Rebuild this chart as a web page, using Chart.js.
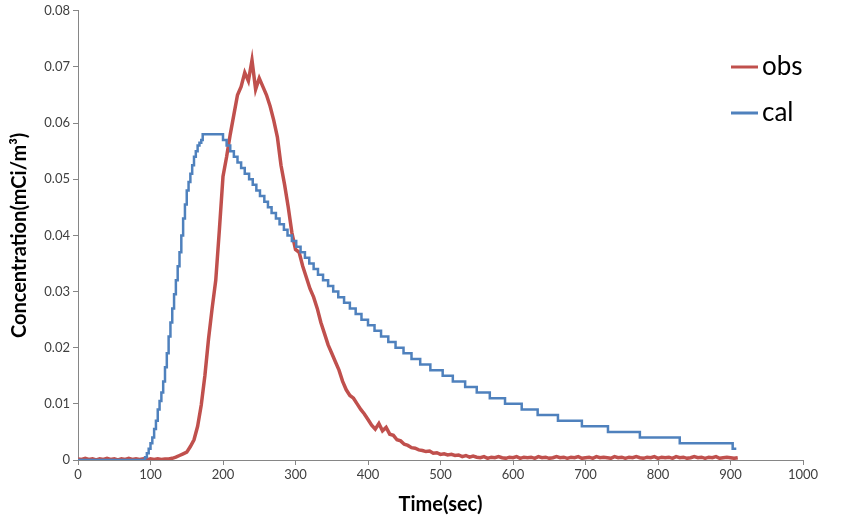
<!DOCTYPE html>
<html>
<head>
<meta charset="utf-8">
<script src="https://cdn.jsdelivr.net/npm/chart.js@4.4.0/dist/chart.umd.min.js"></script>
<style>
  html, body { margin: 0; padding: 0; background: #ffffff; }
  #wrap { position: relative; width: 848px; height: 526px; }
</style>
</head>
<body>
<div id="wrap"><canvas id="c" width="848" height="526"></canvas></div>
<script>
// ---- data ----
const seriesNames = ["obs", "cal"];

const xTicks = [0, 100, 200, 300, 400, 500, 600, 700, 800, 900, 1000];
const yTicks = [0, 0.01, 0.02, 0.03, 0.04, 0.05, 0.06, 0.07, 0.08];

// observed concentration (sec, mCi/m3)
const obsT = [0,5,10,15,20,25,30,35,40,45,50,55,60,65,70,75,80,85,90,95,100,105,110,115,120,125,
  130,135,140,145,150,155,160,165,170,175,180,185,190,195,200,205,210,215,220,225,230,235,240,245,
  250,255,260,265,270,275,280,285,290,295,300,305,310,315,320,325,330,335,340,345,350,355,360,365,
  370,375,380,385,390,395,400,405,410,415,420,425,430,435,440,445,450,455,460,465,470,475,480,485,
  490,495,500,505,510,515,520,525,530,535,540,545,
  550,555,560,565,570,575,580,585,590,595,600,605,610,615,620,625,630,635,640,645,650,655,660,665,
  670,675,680,685,690,695,700,705,710,715,720,725,730,735,740,745,750,755,760,765,770,775,780,785,
  790,795,800,805,810,815,820,825,830,835,840,845,850,855,860,865,870,875,880,885,890,895,900,905,910];
const obsV = [0.0002,0.0001,0.0003,0.0001,0.0002,0.0000,0.0002,0.0001,0.0003,0.0001,0.0002,0.0000,0.0002,
  0.0001,0.0003,0.0001,0.0002,0.0001,0.0002,0.0000,0.0002,0.0001,0.0002,0.0001,0.0002,0.0002,
  0.0003,0.0005,0.0008,0.0011,0.0014,0.0024,0.0036,0.0060,0.0098,0.0150,0.0215,0.0270,0.0320,0.0410,
  0.0505,0.0540,0.0580,0.0615,0.0650,0.0665,0.0690,0.0675,0.0712,0.0660,0.0680,0.0665,0.0650,0.0630,
  0.0605,0.0575,0.0525,0.0490,0.0450,0.0405,0.0375,0.0370,0.0345,0.0325,0.0305,0.0290,0.0270,0.0245,
  0.0225,0.0205,0.0190,0.0175,0.0160,0.0140,0.0125,0.0115,0.0110,0.0100,0.0090,0.0082,0.0072,0.0062,
  0.0055,0.0065,0.0052,0.0058,0.0046,0.0044,0.0036,0.0034,0.0028,0.0026,0.0022,0.0021,0.0018,0.0017,
  0.0015,0.0016,0.0012,0.0013,0.0010,0.0011,0.0009,0.0010,0.0008,0.0009,0.0006,0.0008,0.0005,0.0007,
  0.0005,0.0004,0.0006,0.0003,0.0005,0.0004,0.0006,0.0004,0.0003,0.0005,
  0.0004,0.0006,0.0003,0.0005,0.0004,0.0005,0.0003,0.0006,0.0004,0.0005,
  0.0003,0.0004,0.0006,0.0004,0.0005,0.0003,0.0005,0.0004,0.0006,0.0003,
  0.0004,0.0005,0.0003,0.0006,0.0004,0.0005,0.0004,0.0003,0.0006,0.0004,
  0.0005,0.0003,0.0005,0.0004,0.0006,0.0004,0.0003,0.0005,0.0004,0.0006,
  0.0003,0.0005,0.0004,0.0005,0.0003,0.0006,0.0004,0.0005,0.0003,0.0004,
  0.0006,0.0004,0.0005,0.0003,0.0005,0.0004,0.0006,0.0003,0.0004,0.0005,
  0.0004,0.0003,0.0004];

// calculated concentration: step starts (sec) and levels (mCi/m3)
const calT = [0,90,92.5,95,97.5,100,102.5,105,107.5,110,112.5,115,117.5,120,122.5,125,127.5,130,132.5,
  135,137.5,140,142.5,145,147.5,150,152.5,155,157.5,160,162.5,165,167.5,170,172,
  200,205,210,215,220,225,230,236,241,246,251,257,262,267,273,278,284,289,295,301,307,313,319,325,
  331,338,345,352,359,367,375,383,391,400,409,418,428,438,449,460,472,486,503,517,534,550,568,589,
  612,634,662,695,731,775,830,903,908];
const calV = [0,0,0.0005,0.0012,0.002,0.003,0.004,0.0055,0.007,0.009,0.0105,0.012,0.014,0.0165,0.019,0.022,0.0245,0.027,0.0295,
  0.032,0.0345,0.037,0.040,0.043,0.0455,0.048,0.0495,0.051,0.0525,0.054,0.055,0.056,0.0565,0.057,0.058,
  0.057,0.056,0.055,0.054,0.053,0.052,0.051,0.050,0.049,0.048,0.047,0.046,0.045,0.044,0.043,0.042,0.041,0.040,0.039,0.038,0.037,0.036,0.035,0.034,
  0.033,0.032,0.031,0.030,0.029,0.028,0.027,0.026,0.025,0.024,0.023,0.022,0.021,0.020,0.019,0.018,0.017,0.016,0.015,0.014,0.013,0.012,0.011,0.010,
  0.009,0.008,0.007,0.006,0.005,0.004,0.003,0.002,0.002];

// ---- chart ----
const RED = '#C0504D';
const BLUE = '#4F81BD';
const AXIS = '#868686';
const FONT = 'Lato, "Open Sans", sans-serif';

const obsData = obsT.map((t, i) => ({ x: t, y: obsV[i] }));
const calData = calT.map((t, i) => ({ x: t, y: calV[i] }));

const legendPlugin = {
  id: 'sideLegend',
  afterDraw(chart) {
    const ctx = chart.ctx;
    const items = [
      { label: seriesNames[0], color: RED, y: 67 },
      { label: seriesNames[1], color: BLUE, y: 113 }
    ];
    ctx.save();
    items.forEach(it => {
      ctx.strokeStyle = it.color;
      ctx.lineWidth = 3;
      ctx.beginPath();
      ctx.moveTo(731, it.y);
      ctx.lineTo(758, it.y);
      ctx.stroke();
      ctx.fillStyle = '#000000';
      ctx.font = '26px ' + FONT;
      ctx.textAlign = 'left';
      ctx.textBaseline = 'middle';
      ctx.fillText(it.label, 762, it.y);
    });
    ctx.restore();
  }
};

new Chart(document.getElementById('c'), {
  type: 'line',
  data: {
    datasets: [
      {
        label: seriesNames[1],
        data: calData,
        borderColor: BLUE,
        backgroundColor: BLUE,
        borderWidth: 2.5,
        pointRadius: 0,
        stepped: 'before',
        fill: false,
        order: 0
      },
      {
        label: seriesNames[0],
        data: obsData,
        borderColor: RED,
        backgroundColor: RED,
        borderWidth: 3.5,
        pointRadius: 0,
        tension: 0,
        fill: false,
        order: 1
      }
    ]
  },
  options: {
    responsive: false,
    animation: false,
    devicePixelRatio: 1,
    layout: { padding: { top: 9, right: 45, left: 0, bottom: 0 } },
    plugins: {
      legend: { display: false },
      tooltip: { enabled: false }
    },
    scales: {
      x: {
        type: 'linear',
        min: 0,
        max: 1000,
        afterBuildTicks(scale) { scale.ticks = xTicks.map(v => ({ value: v })); },
        afterFit(scale) { scale.height = 66; },
        border: { display: true, color: AXIS, width: 1 },
        grid: { display: true, drawOnChartArea: false, drawTicks: true, tickLength: 5, color: AXIS },
        ticks: {
          color: '#404040',
          font: { family: FONT, size: 13 },
          padding: 2,
          maxRotation: 0,
          callback: (v) => String(v)
        },
        title: {
          display: true,
          text: 'Time(sec)',
          color: '#000000',
          font: { family: FONT, size: 20, weight: 'bold', lineHeight: 1.2 },
          padding: { top: 0, bottom: 9 }
        }
      },
      y: {
        type: 'linear',
        min: 0,
        max: 0.08,
        afterBuildTicks(scale) { scale.ticks = yTicks.map(v => ({ value: v })); },
        afterFit(scale) { scale.width = 78; },
        border: { display: true, color: AXIS, width: 1 },
        grid: { display: true, drawOnChartArea: false, drawTicks: true, tickLength: 5, color: AXIS },
        ticks: {
          color: '#404040',
          font: { family: FONT, size: 13 },
          padding: 3,
          callback: (v) => String(Math.round(v * 100) / 100)
        },
        title: {
          display: true,
          text: 'Concentration(mCi/m³)',
          color: '#000000',
          font: { family: FONT, size: 20, weight: 'bold', lineHeight: 1.2 },
          padding: { top: 8, bottom: 0 }
        }
      }
    }
  },
  plugins: [legendPlugin]
});
</script>
</body>
</html>
